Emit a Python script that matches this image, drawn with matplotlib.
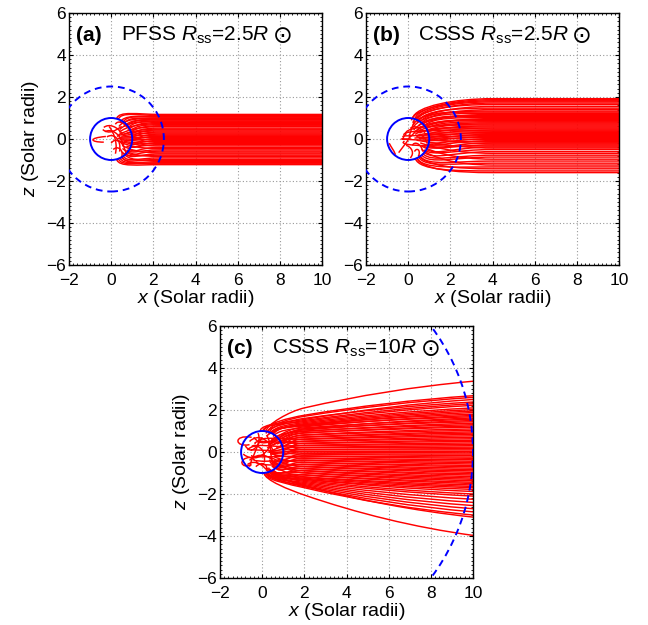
import numpy as np
import matplotlib
matplotlib.use("Agg")
import matplotlib.pyplot as plt
from matplotlib.path import Path
from matplotlib.patches import PathPatch, Circle
from matplotlib.ticker import MultipleLocator

plt.rcParams['font.family'] = ['Liberation Sans', 'DejaVu Sans']
plt.rcParams['mathtext.fontset'] = 'custom'
plt.rcParams['mathtext.rm'] = 'Liberation Sans'
plt.rcParams['mathtext.it'] = 'Liberation Sans:italic'
plt.rcParams['mathtext.bf'] = 'Liberation Sans:bold'

# ---- panel (a): PFSS, Rss = 2.5 ----
end_z_a = [1.17, 1.12, 1.08, 1.04, 1.0, 0.97, 0.94, 0.9, 0.86, 0.82, 0.78, 0.73,
           0.68, 0.63, 0.59, 0.52, 0.47, 0.43, 0.38, 0.33, 0.28, 0.23, 0.18, 0.13,
           0.08, 0.03, -0.02, -0.07, -0.12, -0.17, -0.22, -0.27, -0.33, -0.4, -0.46,
           -0.52, -0.58, -0.66, -0.71, -0.77, -0.83, -0.9, -0.97, -1.02, -1.08,
           -1.13, -1.18, -1.22]
foot_deg_a = [75, 70, 62, 55, 58, 50, 45, 40, 48, 35, 30, 40, 25, 20, 30, 15, 20,
              10, 25, 5, 15, 0, 10, -5, 5, -10, 0, -15, -5, -20, -10, -25, -15,
              -30, -20, -35, -40, -30, -45, -50, -40, -55, -60, -50, -65, -70, -60, -75]
foot_r_a = [1, 1, 0.9, 1, 0.7, 1, 0.85, 1, 0.6, 1, 0.9, 0.5, 1, 0.8, 0.4, 1, 0.6,
            1, 0.3, 0.9, 0.5, 1, 0.4, 0.8, 0.3, 1, 0.5, 0.9, 0.4, 1, 0.6, 0.8, 0.3,
            1, 0.5, 0.9, 1, 0.6, 1, 0.8, 0.7, 1, 1, 0.9, 1, 1, 0.95, 1]
loops_a = [[(-0.35, 0.55), (-0.1, 0.75), (0.3, 0.6), (0.55, 0.2)],
           [(-0.3, 0.35), (0.0, 0.5), (0.4, 0.3), (0.6, -0.3)],
           [(-0.2, 0.1), (0.1, 0.3), (0.5, 0.0), (0.4, -0.6)],
           [(0.0, -0.2), (0.2, 0.1), (0.6, -0.1), (0.7, -0.7)],
           [(-0.25, 0.12), (-1.1, 0.05), (-1.0, -0.15), (-0.35, -0.15)],
           [(0.2, 0.7), (0.3, 0.9), (0.6, 0.8), (0.75, 0.55)],
           [(0.1, -0.5), (0.3, -0.3), (0.6, -0.5), (0.5, -0.85)],
           [(-0.1, 0.6), (0.2, 0.2), (0.3, -0.3), (0.2, -0.7)],
           [(-0.4, 0.45), (-0.1, 0.2), (0.2, 0.4), (0.5, 0.6)]]

# ---- panel (b): CSSS, Rss = 2.5 ----
end_z_b = [1.92, 1.87, 1.82, 1.77, 1.71, 1.64, 1.55, 1.47, 1.4, 1.33, 1.28, 1.22,
           1.17, 1.12, 1.07, 1.02, 0.97, 0.92, 0.87, 0.82, 0.77, 0.72, 0.67, 0.62,
           0.57, 0.52, 0.47, 0.42, 0.37, 0.32, 0.27, 0.22, 0.17, 0.12, 0.07, 0.02,
           -0.03, -0.08, -0.13, -0.18, -0.23, -0.28, -0.33, -0.38, -0.43, -0.5,
           -0.6, -0.68, -0.77, -0.86, -0.96, -1.05, -1.15, -1.24, -1.33, -1.42,
           -1.52, -1.6]
foot_deg_b = [78, 72, 80, 68, 74, 65, 70, 60, 66, 55, 62, 50, 58, 45, 52, 40, 48,
              35, 44, 30, 38, 25, 120, 20, 34, 15, 28, 10, 140, 5, 22, 0, 16, -5,
              160, -10, 8, -15, 180, -20, 2, -25, -150, -30, -8, -35, -40, -18,
              -45, -50, -28, -55, -60, -38, -65, -58, -70, -66]
foot_r_b = [1, 1, 0.9, 1, 0.8, 1, 0.7, 1, 0.6, 1, 0.9, 1, 0.5, 1, 0.8, 1, 0.4, 1,
            0.7, 1, 0.5, 0.9, 0.2, 1, 0.4, 0.8, 0.6, 1, 0.2, 0.9, 0.4, 1, 0.5, 0.8,
            0.2, 1, 0.3, 0.9, 0.2, 1, 0.5, 0.8, 0.2, 1, 0.4, 0.9, 1, 0.6, 1, 1,
            0.7, 1, 1, 0.8, 1, 0.9, 1, 1]
loops_b = [[(-0.35, 0.0), (-0.2, 0.0), (0.0, 0.0), (0.15, 0.0)],
           [(0.0, 0.0), (0.2, 0.2), (0.4, 0.4), (0.6, 0.6)],
           [(0.0, -0.05), (-0.15, -0.25), (-0.3, -0.45), (-0.45, -0.65)],
           [(0.05, 0.1), (0.1, 0.35), (0.2, 0.6), (0.3, 0.85)],
           [(-0.9, -0.2), (-0.8, -0.4), (-0.7, -0.5), (-0.6, -0.75)],
           [(0.2, -0.3), (0.3, -0.1), (0.6, -0.2), (0.7, -0.6)],
           [(0.1, 0.5), (0.3, 0.7), (0.6, 0.5), (0.8, 0.3)],
           [(0.3, -0.6), (0.4, -0.4), (0.6, -0.5), (0.5, -0.8)],
           [(-0.1, -0.3), (0.2, -0.4), (0.3, -0.7), (0.1, -0.9)],
           [(0.4, 0.1), (0.6, 0.3), (0.8, 0.1), (0.9, -0.2)]]

# ---- panel (c): CSSS, Rss = 10 ----
z10_c = [3.37, 2.68, 2.6, 2.5, 2.38, 2.3, 2.22, 2.1, 2.02, 1.95, 1.88,
         1.8, 1.74, 1.68, 1.62, 1.56, 1.5, 1.44, 1.37, 1.3, 1.24, 1.18, 1.1, 1.03,
         0.96, 0.9, 0.84, 0.77, 0.7, 0.63, 0.56, 0.5, 0.43, 0.36, 0.3, 0.23, 0.16,
         0.1, 0.03, -0.04, -0.1, -0.17, -0.24, -0.3, -0.37, -0.44, -0.5, -0.57,
         -0.64, -0.7, -0.77, -0.84, -0.9, -0.97, -1.04, -1.1, -1.17, -1.24, -1.3,
         -1.37, -1.44, -1.5, -1.57, -1.64, -1.7, -1.78,
         -1.88, -2.0, -2.1, -2.25, -2.4, -2.55, -2.7, -2.85, -3.0, -3.1, -3.97]
z2_c = [2.1, 1.75, 1.7, 1.55, 1.6, 1.5, 1.45, 1.4, 1.35, 1.3, 1.25,
        1.3, 1.2, 1.25, 1.1, 1.15, 1.05, 1.1, 0.98, 1.0, 0.9, 0.92, 0.82, 0.8,
        0.72, 0.7, 0.62, 0.6, 0.52, 0.5, 0.42, 0.4, 0.32, 0.3, 0.22, 0.2, 0.12,
        0.1, 0.02, 0.0, -0.08, -0.1, -0.18, -0.2, -0.28, -0.3, -0.38, -0.4, -0.48,
        -0.5, -0.58, -0.6, -0.68, -0.7, -0.78, -0.8, -0.88, -0.9, -0.98, -1.0,
        -1.08, -1.1, -1.18, -1.2, -1.25, -1.3,
        -1.3, -1.35, -1.4, -1.45, -1.5, -1.55, -1.6, -1.65, -1.7, -1.6, -2.05]
foot_deg_c = [80, 85, 75, 95, 70, 78, 88, 65, 72, 60, 68,
              58, 50, 62, 45, 55, 40, 48, 35, 52, 30, 42, 25, 38, 20, 32, 15, 110,
              10, 28, 5, 130, 0, 18, -5, 150, -10, 8, -15, 170, -20, -2, -25, -160,
              -30, -12, -35, -140, -40, -22, -45, -120, -50, -32, -55, -42, -60,
              -48, -65, -38, -58, -70, -52, -62, -68, -75,
              -62, -70, -66, -74, -78, -72, -80, -76, -84, -68, -85]
foot_r_c = [1, 1, 1, 1, 1, 0.9, 1, 1, 0.8, 1, 0.9,
            1, 0.6, 1, 0.5, 0.9, 1, 0.4, 1, 0.7, 1, 0.5, 1, 0.3, 0.9, 0.6, 1, 0.5,
            0.4, 0.8, 1, 0.5, 0.3, 0.7, 1, 0.5, 0.4, 0.9, 0.6, 0.5, 1, 0.3, 0.8,
            0.5, 1, 0.4, 0.7, 0.5, 1, 0.6, 0.9, 0.5, 1, 0.4, 0.8, 0.6, 1, 0.5, 0.9,
            0.7, 1, 1, 0.6, 1, 0.8, 1,
            1, 1, 0.9, 1, 1, 0.8, 1, 1, 1, 0.9, 1]
loops_c = [[(-0.5, 0.7), (-1.4, 0.85), (-1.3, 0.2), (-0.6, 0.35)],
           [(-0.55, -0.25), (-1.2, -0.3), (-1.0, -0.85), (-0.5, -0.6)],
           [(-0.6, 0.5), (-0.2, 0.9), (0.3, 0.6), (0.5, 0.1)],
           [(-0.7, 0.1), (-0.3, 0.5), (0.2, 0.2), (0.1, -0.5)],
           [(-0.6, -0.4), (-0.2, 0.0), (0.4, -0.1), (0.6, -0.6)],
           [(-0.3, -0.7), (0.0, -0.4), (0.3, -0.6), (0.2, -0.9)],
           [(-0.8, 0.3), (-0.5, -0.2), (-0.2, 0.3), (0.0, 0.7)],
           [(-0.4, 0.7), (-0.1, 0.3), (0.3, 0.4), (0.7, 0.7)],
           [(-0.9, -0.1), (-0.4, -0.5), (0.1, -0.2), (0.4, 0.3)],
           [(-0.2, 0.9), (0.0, 0.5), (-0.4, 0.0), (-0.6, -0.7)],
           [(0.2, 0.8), (0.5, 0.4), (0.3, -0.2), (0.6, -0.8)],
           [(-0.7, -0.6), (-0.3, -0.3), (0.1, -0.7), (0.3, -0.95)]]

RED = '#ff0000'
BLUE = '#0000ff'
LW = 1.05


def bezier(ax, verts, extra=None):
    codes = [Path.MOVETO, Path.CURVE4, Path.CURVE4, Path.CURVE4]
    v = list(verts)
    if extra is not None:
        for seg in extra:
            v += seg[1]
            codes += seg[0]
    ax.add_patch(PathPatch(Path(v, codes), fc='none', ec=RED, lw=LW, zorder=2))


def flat_lines(ax, deg, rr, endz, k, xs):
    for th, r, z in zip(deg, rr, endz):
        c, s = np.cos(np.radians(th)), np.sin(np.radians(th))
        p0 = (r * c, r * s)
        p1 = ((r + k) * c, (r + k) * s)
        bezier(ax, [p0, p1, (xs * 0.55, z), (xs, z)],
               extra=[([Path.LINETO], [(10.5, z)])])


def fan_lines(ax, deg, rr, z2s, z10s, k):
    for th, r, z2, z10 in zip(deg, rr, z2s, z10s):
        c, s = np.cos(np.radians(th)), np.sin(np.radians(th))
        d = z10 - z2
        slope = 0.18 * d
        p0 = (r * c, r * s)
        p1 = ((r + k) * c, (r + k) * s)
        bezier(ax, [p0, p1, (1.3, z2 - slope * 0.7), (2.0, z2)],
               extra=[([Path.CURVE4] * 3,
                       [(4.5, z2 + 0.45 * d), (7.2, z2 + 0.8 * d), (10.0, z10)])])


def setup(ax, label, title, rss, ylabel=True):
    ax.set_xlim(-2, 10)
    ax.set_ylim(-6, 6)
    ax.set_xticks(range(-2, 11, 2))
    ax.set_yticks(range(-6, 7, 2))
    ax.xaxis.set_minor_locator(MultipleLocator(0.2))
    ax.yaxis.set_minor_locator(MultipleLocator(0.2))
    ax.tick_params(which='both', direction='in', top=True, right=True,
                   labelsize=12.5)
    ax.tick_params(axis='x', pad=6)
    ax.tick_params(axis='y', pad=2)
    ax.tick_params(which='major', length=3, width=0.8)
    ax.tick_params(which='minor', length=1.5, width=0.6)
    ax.grid(True, which='major', color='#999999', lw=0.8, ls=(0, (1, 2)))
    ax.set_axisbelow(True)
    for sp in ax.spines.values():
        sp.set_linewidth(1.0)
    ax.set_xlabel('$x$ (Solar radii)', fontsize=14, labelpad=0)
    if ylabel:
        ax.set_ylabel('$z$ (Solar radii)', fontsize=14, labelpad=4)
    ax.text(-1.65, 4.95, label, fontsize=15, fontweight='bold', va='center')
    t = ax.text(0.45, 4.95, title, fontsize=15, va='center')
    ax.annotate('\u2299', xy=(1, 0.5), xycoords=t, xytext=(3, -1),
                textcoords='offset points', fontsize=17, va='center',
                family='DejaVu Sans')
    ax.add_patch(Circle((0, 0), 1.0, fc='none', ec=BLUE, lw=1.4, zorder=4))
    ax.add_patch(Circle((0, 0), rss, fc='none', ec=BLUE, lw=1.4,
                        ls=(0, (3.5, 2.5)), zorder=4))


fig = plt.figure(figsize=(6.48, 6.25), dpi=100)
W, H = 648.0, 625.0
ax_a = fig.add_axes([69 / W, 1 - 265 / H, 253 / W, 252 / H])
ax_b = fig.add_axes([366 / W, 1 - 265 / H, 253 / W, 252 / H])
ax_c = fig.add_axes([220 / W, 1 - 578 / H, 253 / W, 252 / H])

flat_lines(ax_a, foot_deg_a, foot_r_a, end_z_a, 0.4, 2.3)
for lp in loops_a:
    bezier(ax_a, lp)
setup(ax_a, '(a)', r'PFSS $R_\mathrm{ss}$=2.5$R$', 2.5)

flat_lines(ax_b, foot_deg_b, foot_r_b, end_z_b, 0.6, 4.0)
for lp in loops_b:
    bezier(ax_b, lp)
setup(ax_b, '(b)', r'CSSS $R_\mathrm{ss}$=2.5$R$', 2.5, ylabel=False)

fan_lines(ax_c, foot_deg_c, foot_r_c, z2_c, z10_c, 0.35)
for lp in loops_c:
    bezier(ax_c, lp)
setup(ax_c, '(c)', r'CSSS $R_\mathrm{ss}$=10$R$', 10.0)

fig.savefig('out.png', dpi=100)
